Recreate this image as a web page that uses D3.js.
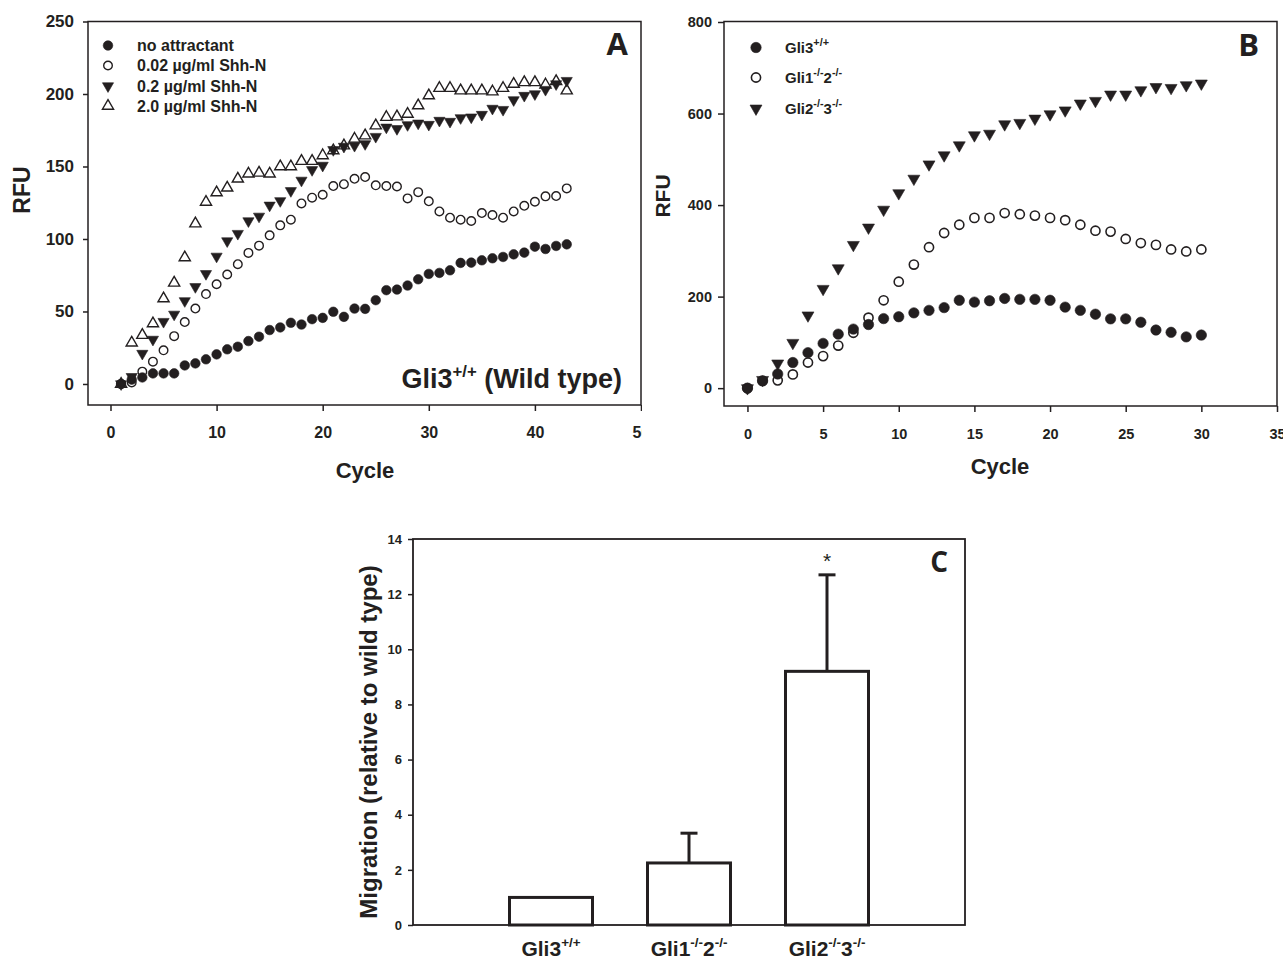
<!DOCTYPE html>
<html><head><meta charset="utf-8">
<script src="https://cdn.jsdelivr.net/npm/d3@7"></script>
<style>
body{margin:0;background:#fff;}
svg{display:block;font-family:"Liberation Sans",Arial,Helvetica,sans-serif;font-weight:bold;}
</style></head><body>
<svg id="fig" width="1283" height="961"></svg>
<script>
// ---------- Panel A data ----------
const cyclesA = [1,2,3,4,5,6,7,8,9,10,11,12,13,14,15,16,17,18,19,20,21,22,23,24,25,26,27,28,29,30,31,32,33,34,35,36,37,38,39,40,41,42,43];
const noAttractant = [0,3,4.5,7.3,7.3,7.3,12.8,14.2,17,20.4,23.9,25.7,29.6,32.6,37.2,39,42.2,41,44.7,45.6,49.8,46.3,52,51.8,57.8,64.7,65.1,67.9,72.2,75.9,76.6,78.4,83.5,83.7,85.3,86.7,87.6,89.4,90.6,94.7,93.1,95.2,96.3];
const shh002 = [0,1,8.5,15.4,23.2,33,42.7,52,62,68.8,75.5,82.6,90.4,95.4,102.5,109.4,113.3,124.5,128.5,130.5,136.5,137.8,141.5,142.7,137,136.5,136.2,128,132.3,126,119,114.7,113.3,112.4,117.9,116.5,114.7,119,122.9,125.7,129.4,129.6,134.9];
const shh02 = [0,5,21,30.7,43,48,57.3,67,76,88,98.6,103.7,112.4,115.6,123.2,126.3,133.2,140.4,147.7,150.7,161.5,163.8,164.4,165.6,170.6,177,176,178.7,179.8,178.9,181.7,181,183.5,184,185.8,190,189.2,195.9,198.9,200,203,206.9,209.2];
const shh20 = [0,28.4,33.7,41.7,58.9,69.7,87.2,110.6,125.5,132,135.3,141.5,145,145.6,145,150,150,153.7,153.7,157.6,161,164.4,169,171.3,178.2,184,184.4,186.2,192,198.9,204,204,202.3,202.3,202.3,201.6,204,206.9,208,208,206.4,208.7,202.3];
const legendA = ["no attractant","0.02 \u00b5g/ml Shh-N","0.2 \u00b5g/ml Shh-N","2.0 \u00b5g/ml Shh-N"];
const xTicksA = [0,10,20,30,40,50];
const yTicksA = [0,50,100,150,200,250];

// ---------- Panel B data ----------
const cyclesB = [0,1,2,3,4,5,6,7,8,9,10,11,12,13,14,15,16,17,18,19,20,21,22,23,24,25,26,27,28,29,30];
const gli3wt = [0,16,31,56,77.5,97.8,118,129,139,152,156,164.5,170,176,192,188,191,196,194,194,192,177,170,161.6,151.4,151.4,144,127,122,112,116];
const gli12 = [0,16,17,30,56,70,93,121,154,192,232.6,270,308,339,357,372,372,382.6,380,377,372,367,357,344,342,326,317,313,303,298.6,303];
const gli23 = [0,18,54,99,159,217,262,313,351,390,426,457.7,489,508.8,530.7,552.6,556,576.6,579.6,589,598.5,607,622,627.7,641.6,641.6,651,658,656,662,665.7];
const legendB = [["Gli3","+/+"],["Gli1","-/-","2","-/-"],["Gli2","-/-","3","-/-"]];
const xTicksB = [0,5,10,15,20,25,30,35];
const yTicksB = [0,200,400,600,800];

// ---------- Panel C data ----------
const categoriesC = [["Gli3","+/+"],["Gli1","-/-","2","-/-"],["Gli2","-/-","3","-/-"]];
const migration = [1.0,2.25,9.2];
const migrationErr = [0,1.08,3.5];
const yTicksC = [0,2,4,6,8,10,12,14];

const ink = "#231f20";
const svg = d3.select("#fig");
svg.append("rect").attr("width",1283).attr("height",961).attr("fill","#fff");

function styleAxis(g, fs){
  g.attr("font-family",null).attr("font-size",null);
  g.select(".domain").remove();
  g.selectAll(".tick line").attr("stroke",ink).attr("stroke-width",1.5);
  g.selectAll(".tick text").attr("fill",ink).style("font-size",fs+"px").style("font-weight","bold");
}
function richText(g, x, y, parts, fs, anchor, supScale, supRise){
  const t = g.append("text").attr("x",x).attr("y",y).attr("text-anchor",anchor||"start")
    .attr("fill",ink).style("font-size",fs+"px").style("font-weight","bold");
  let cur = 0;
  parts.forEach((p,i)=>{
    const sup = i%2===1;
    const target = sup ? -fs*(supRise||0.45) : 0;
    t.append("tspan").attr("dy",target-cur).style("font-size",(sup?fs*(supScale||0.68):fs)+"px").text(p);
    cur = target;
  });
  return t;
}
function drawSeries(g, xs, ys, x, y, shape, filled, size, rot, sw){
  g.append("g").selectAll("path").data(ys).join("path")
    .attr("d", d3.symbol().type(shape).size(size)())
    .attr("transform",(d,i)=>`translate(${x(xs[i])},${y(d)}) rotate(${rot})`)
    .attr("fill", filled?ink:"none").attr("stroke",ink).attr("stroke-width", filled?0.6:sw);
}
function marker(g, cx, cy, shape, filled, size, rot, sw){
  g.append("path").attr("d", d3.symbol().type(shape).size(size)())
    .attr("transform",`translate(${cx},${cy}) rotate(${rot})`)
    .attr("fill", filled?ink:"none").attr("stroke",ink).attr("stroke-width", filled?0.6:sw);
}

// ================= PANEL A =================
const gA = svg.append("g");
const xA = d3.scaleLinear().domain([-2.12,50]).range([88,641]);
const yA = d3.scaleLinear().domain([-14.5,250]).range([405,21.5]);
svg.append("clipPath").attr("id","clipA").append("rect").attr("x",0).attr("y",0).attr("width",642).attr("height",961);
gA.append("rect").attr("x",88).attr("y",21.5).attr("width",553).attr("height",383.5)
  .attr("fill","none").attr("stroke",ink).attr("stroke-width",1.5);
gA.append("g").attr("transform","translate(88,0)")
  .call(d3.axisLeft(yA).tickValues(yTicksA).tickSize(5).tickPadding(9)).call(styleAxis,17);
gA.append("g").attr("transform","translate(0,405)").attr("clip-path","url(#clipA)")
  .call(d3.axisBottom(xA).tickValues(xTicksA).tickSize(6).tickPadding(16)).call(styleAxis,16);
gA.append("text").attr("x",365).attr("y",478).attr("text-anchor","middle").attr("fill",ink)
  .style("font-size","22px").text("Cycle");
gA.append("text").attr("transform","translate(30,190) rotate(-90)").attr("text-anchor","middle").attr("fill",ink)
  .style("font-size","23px").text("RFU");
const stA = [
  {ys:noAttractant, shape:d3.symbolCircle, filled:true, size:72, rot:0},
  {ys:shh002, shape:d3.symbolCircle, filled:false, size:58, rot:0},
  {ys:shh02, shape:d3.symbolTriangle, filled:true, size:54, rot:180},
  {ys:shh20, shape:d3.symbolTriangle, filled:false, size:54, rot:0}
];
stA.forEach(s=>drawSeries(gA, cyclesA, s.ys, xA, yA, s.shape, s.filled, s.size, s.rot, 1.4));
const legRowsA = [45.5,65.5,86,106];
stA.forEach((s,i)=>{
  marker(gA,108,legRowsA[i],s.shape,s.filled,s.size,s.rot,1.4);
  gA.append("text").attr("x",137).attr("y",legRowsA[i]+5.5).attr("fill",ink).style("font-size","16px").text(legendA[i]);
});
gA.append("text").attr("x",628).attr("y",55).attr("text-anchor","end").attr("fill",ink)
  .style("font-family","'Open Sans',sans-serif").style("font-weight","700").style("font-size","31px").text("A");
richText(gA, 622, 388, ["Gli3","+/+"," (Wild type)"], 27, "end", 0.62, 0.42);

// ================= PANEL B =================
const gB = svg.append("g");
const xB = d3.scaleLinear().domain([-1.55,35]).range([724,1277]);
const yB = d3.scaleLinear().domain([-39,800]).range([406,22]);
gB.append("rect").attr("x",724).attr("y",21.5).attr("width",553).attr("height",384.5)
  .attr("fill","none").attr("stroke",ink).attr("stroke-width",1.5);
gB.append("g").attr("transform","translate(724,0)")
  .call(d3.axisLeft(yB).tickValues(yTicksB).tickSize(6).tickPadding(6)).call(styleAxis,14.5);
gB.append("g").attr("transform","translate(0,406)")
  .call(d3.axisBottom(xB).tickValues(xTicksB).tickSize(6).tickPadding(17)).call(styleAxis,14.5);
gB.append("text").attr("x",1000).attr("y",474).attr("text-anchor","middle").attr("fill",ink)
  .style("font-size","22px").text("Cycle");
gB.append("text").attr("transform","translate(670,196) rotate(-90)").attr("text-anchor","middle").attr("fill",ink)
  .style("font-size","21px").text("RFU");
const stB = [
  {ys:gli3wt, shape:d3.symbolCircle, filled:true, size:85, rot:0},
  {ys:gli12, shape:d3.symbolCircle, filled:false, size:66, rot:0},
  {ys:gli23, shape:d3.symbolTriangle, filled:true, size:62, rot:180}
];
stB.forEach(s=>drawSeries(gB, cyclesB, s.ys, xB, yB, s.shape, s.filled, s.size, s.rot, 1.6));
const legRowsB = [47.5,77.5,108.5];
stB.forEach((s,i)=>{
  marker(gB,756,legRowsB[i],s.shape,s.filled,s.size,s.rot,1.6);
  richText(gB, 785, legRowsB[i]+5.5, legendB[i], 15, "start", 0.72, 0.45);
});
gB.append("text").attr("x",1259).attr("y",56).attr("text-anchor","end").attr("fill",ink)
  .style("font-family","'Open Sans',sans-serif").style("font-weight","700").style("font-size","31px").text("B");

// ================= PANEL C =================
const gC = svg.append("g");
const catKeys = categoriesC.map(c=>c.join(""));
const xC = d3.scalePoint().domain(catKeys).range([413,965]).padding(1);
const yC = d3.scaleLinear().domain([0,14]).range([925,539]);
const barW = 83;
gC.append("rect").attr("x",413).attr("y",539).attr("width",552).attr("height",386)
  .attr("fill","none").attr("stroke",ink).attr("stroke-width",1.8);
gC.append("g").attr("transform","translate(413,0)")
  .call(d3.axisLeft(yC).tickValues(yTicksC).tickSize(5).tickPadding(6)).call(styleAxis,13);
gC.selectAll(".bar").data(migration).join("rect").attr("class","bar")
  .attr("x",(d,i)=>xC(catKeys[i])-barW/2).attr("y",d=>yC(d))
  .attr("width",barW).attr("height",d=>yC(0)-yC(d))
  .attr("fill","#fff").attr("stroke",ink).attr("stroke-width",3);
migration.forEach((v,i)=>{
  const e = migrationErr[i];
  if(e>0){
    const cx = xC(catKeys[i]);
    gC.append("line").attr("x1",cx).attr("x2",cx).attr("y1",yC(v)).attr("y2",yC(v+e)).attr("stroke",ink).attr("stroke-width",3);
    gC.append("line").attr("x1",cx-8.5).attr("x2",cx+8.5).attr("y1",yC(v+e)).attr("y2",yC(v+e)).attr("stroke",ink).attr("stroke-width",3);
  }
});
gC.append("text").attr("x",xC(catKeys[2])).attr("y",yC(migration[2]+migrationErr[2])-7).attr("text-anchor","middle")
  .attr("fill",ink).style("font-weight","normal").style("font-size","21px").text("*");
categoriesC.forEach((c,i)=>richText(gC, xC(catKeys[i]), 956, c, 21, "middle", 0.64, 0.45));
gC.append("text").attr("transform","translate(377,742) rotate(-90)").attr("text-anchor","middle").attr("fill",ink)
  .style("font-size","24px").text("Migration (relative to wild type)");
gC.append("text").attr("x",948).attr("y",572).attr("text-anchor","end").attr("fill",ink)
  .style("font-family","'Open Sans',sans-serif").style("font-weight","700").style("font-size","28px").text("C");
</script>
</body></html>
